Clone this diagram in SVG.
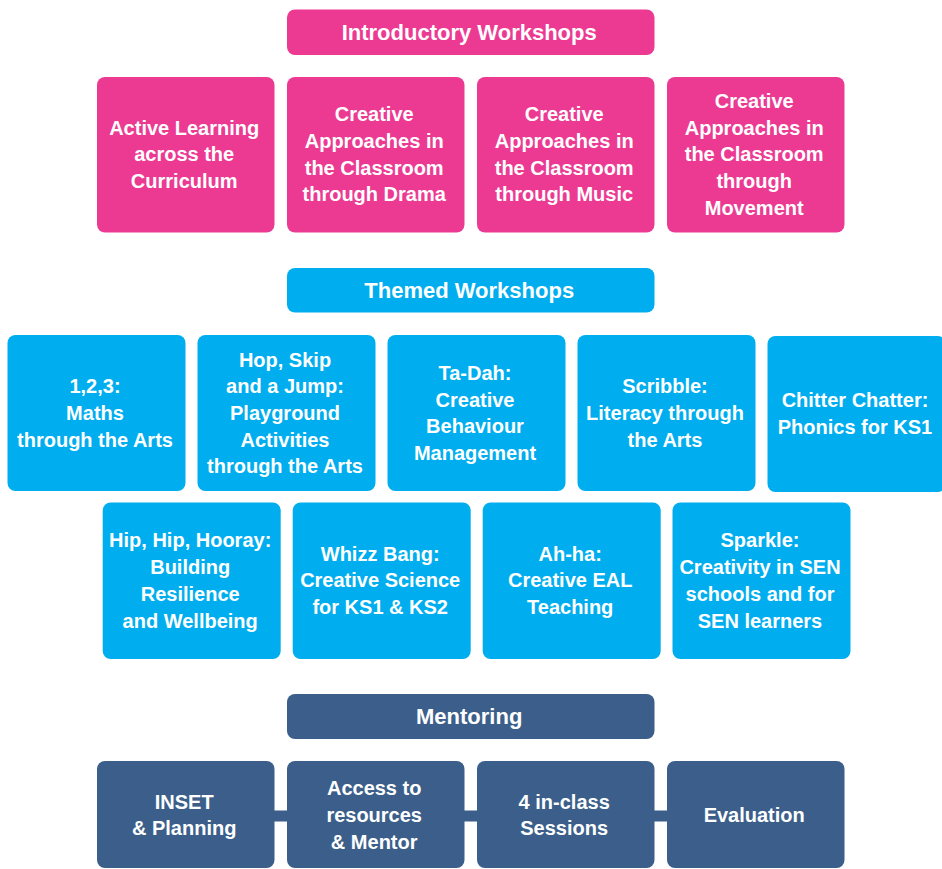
<svg xmlns="http://www.w3.org/2000/svg" width="942" height="869" viewBox="0 0 942 869">
<style>
text{font-family:"Liberation Sans",Arial,Helvetica,sans-serif;font-weight:bold;fill:#ffffff;text-anchor:middle}
.t{font-size:20px}
.h{font-size:22px}
.pink{fill:#EC3A93}
.blue{fill:#00AEEF}
.navy{fill:#3B5F8A}
</style>
<rect width="942" height="869" fill="#ffffff"/>
<g id="connectors">
<rect class="navy" x="270" y="810.5" width="20" height="11"/>
<rect class="navy" x="460" y="810.5" width="20" height="11"/>
<rect class="navy" x="650" y="810.5" width="20" height="11"/>
</g>
<g id="intro-header"><rect class="pink" x="287" y="9.5" width="367.5" height="45.5" rx="8"/><text class="h" x="469.2" y="40">Introductory Workshops</text></g>
<g id="intro-1"><rect class="pink" x="97" y="77" width="177.5" height="155.5" rx="8"/><text class="t" x="184.2"><tspan x="184.2" y="134.5">Active Learning</tspan><tspan x="184.2" y="161.2">across the</tspan><tspan x="184.2" y="187.9">Curriculum</tspan></text></g>
<g id="intro-2"><rect class="pink" x="287" y="77" width="177.5" height="155.5" rx="8"/><text class="t" x="374.2"><tspan x="374.2" y="121.2">Creative</tspan><tspan x="374.2" y="147.9">Approaches in</tspan><tspan x="374.2" y="174.6">the Classroom</tspan><tspan x="374.2" y="201.3">through Drama</tspan></text></g>
<g id="intro-3"><rect class="pink" x="477" y="77" width="177.5" height="155.5" rx="8"/><text class="t" x="564.2"><tspan x="564.2" y="121.2">Creative</tspan><tspan x="564.2" y="147.9">Approaches in</tspan><tspan x="564.2" y="174.6">the Classroom</tspan><tspan x="564.2" y="201.3">through Music</tspan></text></g>
<g id="intro-4"><rect class="pink" x="667" y="77" width="177.5" height="155.5" rx="8"/><text class="t" x="754.2"><tspan x="754.2" y="107.8">Creative</tspan><tspan x="754.2" y="134.5">Approaches in</tspan><tspan x="754.2" y="161.2">the Classroom</tspan><tspan x="754.2" y="187.9">through</tspan><tspan x="754.2" y="214.6">Movement</tspan></text></g>
<g id="themed-header"><rect class="blue" x="287" y="268" width="367.5" height="44.5" rx="8"/><text class="h" x="469.2" y="298">Themed Workshops</text></g>
<g id="themed-1"><rect class="blue" x="7.5" y="335" width="178" height="156" rx="8"/><text class="t" x="95"><tspan x="95" y="393.3">1,2,3:</tspan><tspan x="95" y="420">Maths</tspan><tspan x="95" y="446.7">through the Arts</tspan></text></g>
<g id="themed-2"><rect class="blue" x="197.5" y="335" width="178" height="156" rx="8"/><text class="t" x="285"><tspan x="285" y="366.6">Hop, Skip</tspan><tspan x="285" y="393.3">and a Jump:</tspan><tspan x="285" y="420">Playground</tspan><tspan x="285" y="446.7">Activities</tspan><tspan x="285" y="473.4">through the Arts</tspan></text></g>
<g id="themed-3"><rect class="blue" x="387.5" y="335" width="178" height="156" rx="8"/><text class="t" x="475"><tspan x="475" y="380">Ta-Dah:</tspan><tspan x="475" y="406.7">Creative</tspan><tspan x="475" y="433.4">Behaviour</tspan><tspan x="475" y="460.1">Management</tspan></text></g>
<g id="themed-4"><rect class="blue" x="577.5" y="335" width="178" height="156" rx="8"/><text class="t" x="665"><tspan x="665" y="393.3">Scribble:</tspan><tspan x="665" y="420">Literacy through</tspan><tspan x="665" y="446.7">the Arts</tspan></text></g>
<g id="themed-5"><rect class="blue" x="767.5" y="336" width="178" height="156" rx="8"/><text class="t" x="855"><tspan x="855" y="407">Chitter Chatter:</tspan><tspan x="855" y="433.7">Phonics for KS1</tspan></text></g>
<g id="themed-6"><rect class="blue" x="102.7" y="502.5" width="178" height="156.5" rx="8"/><text class="t" x="190.2"><tspan x="190.2" y="547.4">Hip, Hip, Hooray:</tspan><tspan x="190.2" y="574.1">Building</tspan><tspan x="190.2" y="600.8">Resilience</tspan><tspan x="190.2" y="627.5">and Wellbeing</tspan></text></g>
<g id="themed-7"><rect class="blue" x="292.7" y="502.5" width="178" height="156.5" rx="8"/><text class="t" x="380.2"><tspan x="380.2" y="560.7">Whizz Bang:</tspan><tspan x="380.2" y="587.4">Creative Science</tspan><tspan x="380.2" y="614.1">for KS1 &amp; KS2</tspan></text></g>
<g id="themed-8"><rect class="blue" x="482.7" y="502.5" width="178" height="156.5" rx="8"/><text class="t" x="570.2"><tspan x="570.2" y="560.7">Ah-ha:</tspan><tspan x="570.2" y="587.4">Creative EAL</tspan><tspan x="570.2" y="614.1">Teaching</tspan></text></g>
<g id="themed-9"><rect class="blue" x="672.5" y="502.5" width="178" height="156.5" rx="8"/><text class="t" x="760"><tspan x="760" y="547.4">Sparkle:</tspan><tspan x="760" y="574.1">Creativity in SEN</tspan><tspan x="760" y="600.8">schools and for</tspan><tspan x="760" y="627.5">SEN learners</tspan></text></g>
<g id="mentoring-header"><rect class="navy" x="287" y="694" width="367.5" height="45" rx="8"/><text class="h" x="469.2" y="724.3">Mentoring</text></g>
<g id="mentoring-1"><rect class="navy" x="97" y="761" width="177.5" height="107" rx="8"/><text class="t" x="184.2"><tspan x="184.2" y="808.5">INSET</tspan><tspan x="184.2" y="835.2">&amp; Planning</tspan></text></g>
<g id="mentoring-2"><rect class="navy" x="287" y="761" width="177.5" height="107" rx="8"/><text class="t" x="374.2"><tspan x="374.2" y="795.2">Access to</tspan><tspan x="374.2" y="821.9">resources</tspan><tspan x="374.2" y="848.6">&amp; Mentor</tspan></text></g>
<g id="mentoring-3"><rect class="navy" x="477" y="761" width="177.5" height="107" rx="8"/><text class="t" x="564.2"><tspan x="564.2" y="808.5">4 in-class</tspan><tspan x="564.2" y="835.2">Sessions</tspan></text></g>
<g id="mentoring-4"><rect class="navy" x="667" y="761" width="177.5" height="107" rx="8"/><text class="t" x="754.2" y="821.9">Evaluation</text></g>
</svg>
